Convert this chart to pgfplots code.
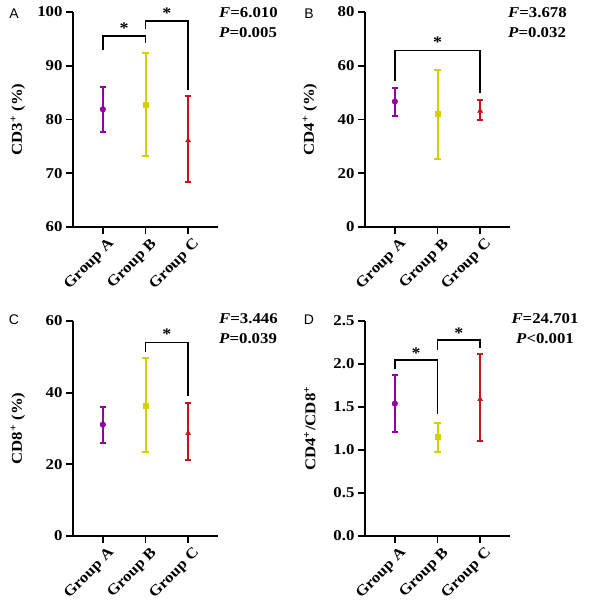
\documentclass[border=0pt]{standalone}
\usepackage{fontspec}
\setmainfont{Liberation Serif}[FakeStretch=1.12]
\setsansfont{Liberation Sans}
\usepackage{pgfplots}
\pgfplotsset{compat=1.18}
\definecolor{cA}{RGB}{148,0,160}
\definecolor{cB}{RGB}{212,208,0}
\definecolor{cC}{RGB}{200,18,28}
\pgfplotsset{
  panel/.style={
    scale only axis, width=145pt, height=215pt,
    xmin=-0.7, xmax=2.7,
    axis x line*=bottom, axis y line*=left,
    axis line style={-, line width=1.8pt},
    every tick/.style={black, line width=1.8pt},
    major tick length=7pt, tick align=outside,
    xtick={0,1,2}, xticklabels={Group A,Group B,Group C},
    xticklabel style={rotate=45, anchor=east, font=\bfseries\fontsize{15}{15}\selectfont, inner sep=2pt, yshift=-12pt, xshift=3pt},
    yticklabel style={font=\bfseries\fontsize{15}{15}\selectfont},
    /pgf/number format/assume math mode=true,
    ylabel style={at={(axis description cs:-0.38,0.5)}, anchor=center, font=\bfseries\fontsize{15}{15}\selectfont},
    clip=false,
  },
  ebar/.style={
    only marks, mark options={line width=0.5pt},
    error bars/y dir=both, error bars/y explicit,
    error bars/error bar style={line width=2pt, color=#1},
    error bars/error mark options={line width=2pt, mark size=3.3pt, rotate=90, color=#1},
  },
  brk/.style={black, line width=1.8pt, mark=none},
}
\newcommand{\sigstar}[2]{\node[font=\bfseries\fontsize{16}{16}\selectfont, anchor=center] at (axis cs:#1,#2) {*};}
\begin{document}
\begin{tikzpicture}
\useasboundingbox (0,0) rectangle (589pt,614pt);
% ---------- Panel A ----------
\begin{axis}[panel, at={(73pt,387pt)}, anchor=south west,
  ymin=60, ymax=100, ytick={60,70,80,90,100}, ylabel={CD3\textsuperscript{+} (\%)}]
\addplot[ebar=cA, mark=*, mark size=2.8pt, color=cA] table[x=x,y=y,y error plus=ep,y error minus=em] {
x y ep em
0 81.9 4.1 4.2
};
\addplot[ebar=cB, mark=square*, mark size=2.6pt, color=cB] table[x=x,y=y,y error plus=ep,y error minus=em] {
x y ep em
1 82.8 9.6 9.5
};
\addplot[ebar=cC, mark=triangle*, mark size=2.8pt, color=cC] table[x=x,y=y,y error plus=ep,y error minus=em] {
x y ep em
2 76.1 8.3 7.7
};
\addplot[brk] coordinates {(0,92.9) (0,95.5) (1,95.5) (1,94.2)};
\addplot[brk] coordinates {(1,96.9) (1,98.3) (2,98.3) (2,85.4)};
\sigstar{0.5}{97.0}
\sigstar{1.5}{99.8}
\end{axis}
% ---------- Panel B ----------
\begin{axis}[panel, at={(365pt,387pt)}, anchor=south west,
  ymin=0, ymax=80, ytick={0,20,40,60,80}, ylabel={CD4\textsuperscript{+} (\%)}]
\addplot[ebar=cA, mark=*, mark size=2.8pt, color=cA] table[x=x,y=y,y error plus=ep,y error minus=em] {
x y ep em
0 46.7 5.1 5.5
};
\addplot[ebar=cB, mark=square*, mark size=2.6pt, color=cB] table[x=x,y=y,y error plus=ep,y error minus=em] {
x y ep em
1 42.0 16.3 16.6
};
\addplot[ebar=cC, mark=triangle*, mark size=2.8pt, color=cC] table[x=x,y=y,y error plus=ep,y error minus=em] {
x y ep em
2 43.2 4.2 3.5
};
\addplot[brk] coordinates {(0,54.3) (0,65.7) (2,65.7) (2,49.9)};
\sigstar{1}{68.8}
\end{axis}
% ---------- Panel C ----------
\begin{axis}[panel, at={(73pt,78pt)}, anchor=south west,
  ymin=0, ymax=60, ytick={0,20,40,60}, ylabel={CD8\textsuperscript{+} (\%)}]
\addplot[ebar=cA, mark=*, mark size=2.8pt, color=cA] table[x=x,y=y,y error plus=ep,y error minus=em] {
x y ep em
0 31.1 5.0 5.1
};
\addplot[ebar=cB, mark=square*, mark size=2.6pt, color=cB] table[x=x,y=y,y error plus=ep,y error minus=em] {
x y ep em
1 36.4 13.3 13.0
};
\addplot[ebar=cC, mark=triangle*, mark size=2.8pt, color=cC] table[x=x,y=y,y error plus=ep,y error minus=em] {
x y ep em
2 28.7 8.5 7.6
};
\addplot[brk] coordinates {(1,51.4) (1,54.0) (2,54.0) (2,39.1)};
\sigstar{1.5}{56.4}
\end{axis}
% ---------- Panel D ----------
\begin{axis}[panel, at={(365pt,78pt)}, anchor=south west,
  ymin=0, ymax=2.5, ytick={0,0.5,1,1.5,2,2.5},
  yticklabel style={/pgf/number format/.cd, fixed, fixed zerofill, precision=1},
  ylabel={CD4\textsuperscript{+}/CD8\textsuperscript{+}}]
\addplot[ebar=cA, mark=*, mark size=2.8pt, color=cA] table[x=x,y=y,y error plus=ep,y error minus=em] {
x y ep em
0 1.54 0.33 0.33
};
\addplot[ebar=cB, mark=square*, mark size=2.6pt, color=cB] table[x=x,y=y,y error plus=ep,y error minus=em] {
x y ep em
1 1.15 0.16 0.17
};
\addplot[ebar=cC, mark=triangle*, mark size=2.8pt, color=cC] table[x=x,y=y,y error plus=ep,y error minus=em] {
x y ep em
2 1.59 0.53 0.48
};
\addplot[brk] coordinates {(0,1.94) (0,2.05) (1,2.05) (1,1.42)};
\addplot[brk] coordinates {(1,2.16) (1,2.28) (2,2.28) (2,2.19)};
\sigstar{0.5}{2.13}
\sigstar{1.5}{2.36}
\end{axis}
% ---------- annotations ----------
\begin{scope}[every node/.style={font=\sffamily\fontsize{14}{14}\selectfont, inner sep=0pt}]
\node at (14pt,600pt) {A};
\node at (309pt,600pt) {B};
\node at (14pt,294pt) {C};
\node at (309pt,294pt) {D};
\end{scope}
\begin{scope}[every node/.style={font=\bfseries\fontsize{15}{20}\selectfont, inner sep=0pt}]
\node[anchor=north west, align=left] at (219pt,607pt) {\textit{F}=6.010\\\textit{P}=0.005};
\node[anchor=north west, align=left] at (508pt,607pt) {\textit{F}=3.678\\\textit{P}=0.032};
\node[anchor=north west, align=left] at (219pt,301pt) {\textit{F}=3.446\\\textit{P}=0.039};
\node[anchor=north, align=center] at (545pt,301pt) {\textit{F}=24.701\\\textit{P}\textless0.001};
\end{scope}
\end{tikzpicture}
\end{document}
